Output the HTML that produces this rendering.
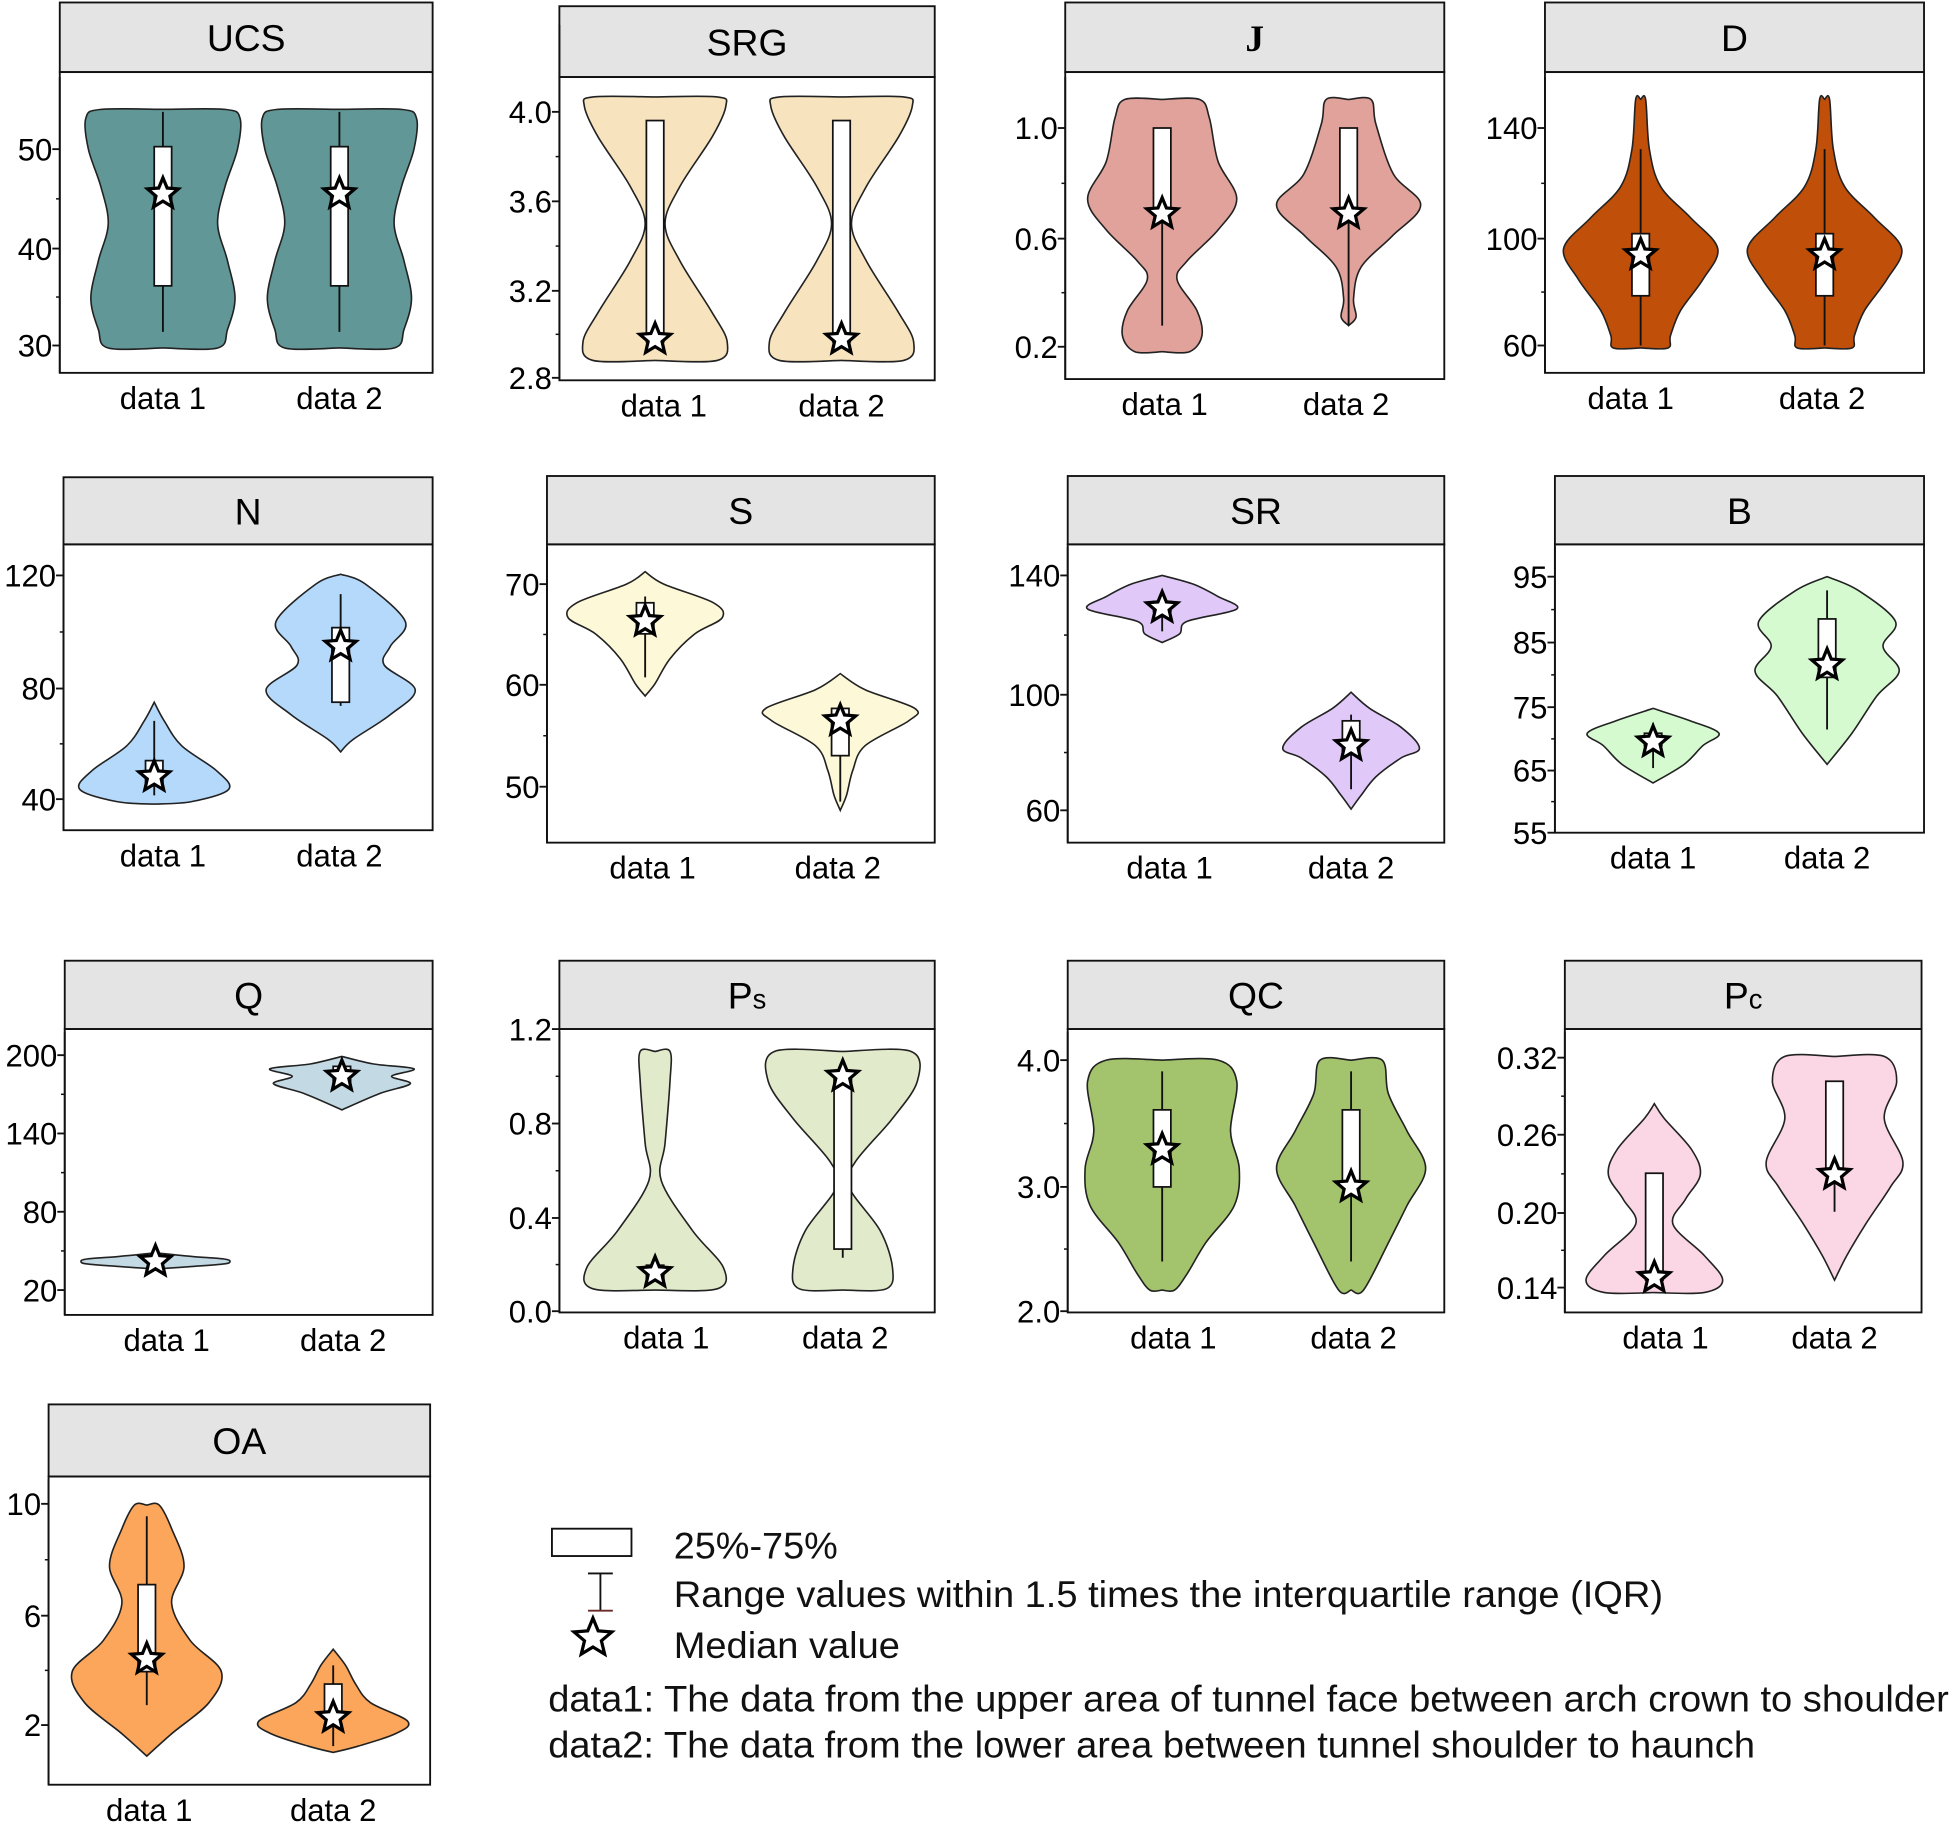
<!DOCTYPE html>
<html><head><meta charset="utf-8"><style>
html,body{margin:0;padding:0;background:#fff;}
svg{display:block;font-family:"Liberation Sans",Arial,sans-serif;}
</style></head><body>
<svg id="s" width="1949" height="1822" viewBox="0 0 1568 1466" xmlns="http://www.w3.org/2000/svg"></svg>
<script>
const S=document.getElementById('s');let h='';
function star(x,y,r){let p=[];for(let i=0;i<10;i++){let a=-Math.PI/2+i*Math.PI/5,rr=i%2?r*0.45:r;p.push((x+rr*Math.cos(a)).toFixed(1)+','+(y+rr*Math.sin(a)).toFixed(1));}
return `<polygon points="${p.join(' ')}" fill="#fff" stroke="#000" stroke-width="2.6" stroke-linejoin="miter"/>`;}
function smooth(pts){let d='M'+pts[0][0]+','+pts[0][1];for(let i=0;i<pts.length-1;i++){let p0=pts[Math.max(0,i-1)],p1=pts[i],p2=pts[i+1],p3=pts[Math.min(pts.length-1,i+2)];
let c1=[p1[0]+(p2[0]-p0[0])/6,p1[1]+(p2[1]-p0[1])/6],c2=[p2[0]-(p3[0]-p1[0])/6,p2[1]-(p3[1]-p1[1])/6];d+=` C${c1[0].toFixed(1)},${c1[1].toFixed(1)} ${c2[0].toFixed(1)},${c2[1].toFixed(1)} ${p2[0]},${p2[1]}`;}return d;}
function violin(cx,prof,col,box,wh,med){
 let r=prof.map(p=>[cx+p[1],p[0]]),l=prof.slice().reverse().map(p=>[cx-p[1],p[0]]);
 let d=smooth(r)+' L'+l[0][0]+','+l[0][1]+' '+smooth(l).slice(1)+'Z';
 h+=`<path d="${d}" fill="${col}" stroke="#222" stroke-width="1.3"/>`;
 if(wh)h+=`<line x1="${cx}" y1="${wh[0]}" x2="${cx}" y2="${wh[1]}" stroke="#111" stroke-width="1.5"/>`;
 if(box)h+=`<rect x="${cx-7}" y="${box[0]}" width="14" height="${box[1]-box[0]}" fill="#fff" stroke="#111" stroke-width="1.4"/>`;
 h+=star(cx,med,13);}
function panel(t,x1,x2,ty,py,by,ticks,cx,axTop){
 h+=`<rect x="${x1}" y="${ty}" width="${x2-x1}" height="${py-ty}" fill="#e4e4e4" stroke="#111" stroke-width="1.5"/>`;
 h+=`<text x="${(x1+x2)/2}" y="${ty+(py-ty)/2+11}" font-size="30" text-anchor="middle">${t}</text>`;
 h+=`<rect x="${x1}" y="${py}" width="${x2-x1}" height="${by-py}" fill="none" stroke="#111" stroke-width="1.5"/>`;
 h+=`<line x1="${x1}" y1="${axTop}" x2="${x1}" y2="${by}" stroke="#111" stroke-width="1.5"/>`;
 for(const [v,y] of ticks){h+=`<line x1="${x1-6}" y1="${y}" x2="${x1}" y2="${y}" stroke="#111" stroke-width="1.5"/>`;
  h+=`<text x="${x1-6}" y="${y+9}" font-size="25" text-anchor="end">${v}</text>`;}
 for(let i=0;i<ticks.length-1;i++){let m=(ticks[i][1]+ticks[i+1][1])/2;h+=`<line x1="${x1-3}" y1="${m}" x2="${x1}" y2="${m}" stroke="#111" stroke-width="1.2"/>`;}
 h+=`<text x="${cx[0]}" y="${by+29}" font-size="25" text-anchor="middle">data 1</text><text x="${cx[1]}" y="${by+29}" font-size="25" text-anchor="middle">data 2</text>`;}
// Row1
panel('UCS',48,348,2,58,300,[[50,120],[40,200],[30,278]],[131,273],62);
let ucs=[[88,0],[88,50],[95,62],[120,60],[150,50],[180,44],[210,52],[240,58],[265,52],[280,44],[280,0]];
violin(131,ucs,'#629797',[118,230],[90,267],156);violin(273,ucs,'#629797',[118,230],[90,267],156);
panel('SRG',450,752,5,62,306,[['4.0',90],['3.6',162],['3.2',234],['2.8',304]],[534,677],20);
let srg=[[78,0],[78,50],[85,57],[110,46],[150,20],[180,8],[210,20],[250,45],[275,58],[290,50],[290,0]];
violin(527,srg,'#f7e4bf',[97,275],null,273);violin(677,srg,'#f7e4bf',[97,275],null,273);
panel('<tspan font-family="Liberation Serif" font-weight="bold">J</tspan>',857,1162,2,58,305,[['1.0',103],['0.6',192],['0.2',279]],[937,1083],62);
violin(935,[[80,0],[80,30],[95,38],[130,45],[160,60],[185,45],[210,20],[225,12],[250,28],[270,32],[283,22],[283,0]],'#e0a29a',[103,172],[103,262],172);
violin(1085,[[80,0],[80,18],[100,22],[140,36],[165,58],[190,35],[215,10],[240,4],[255,6],[262,0]],'#e0a29a',[103,172],[103,262],172);
panel('D',1243,1548,2,58,300,[[140,103],[100,192],[60,278]],[1312,1466],62);
let dd=[[80,0],[80,4],[120,7],[150,16],[175,40],[200,62],[225,50],[250,32],[270,24],[280,22],[280,0]];
violin(1320,dd,'#c04f0a',[188,238],[120,278],205);violin(1468,dd,'#c04f0a',[188,238],[120,278],205);
// Row2
panel('N',51,348,384,438,668,[[120,463],[80,554],[40,643]],[131,273],440);
violin(124,[[565,0],[580,8],[600,22],[620,50],[635,60],[645,30],[647,0]],'#b5d9fb',[612,630],[580,640],625);
violin(274,[[462,0],[470,20],[500,52],[520,40],[535,35],[555,60],[575,40],[595,10],[605,0]],'#b5d9fb',[505,565],[478,568],520);
panel('S',440,752,383,438,678,[[70,470],[60,551],[50,633]],[525,674],440);
violin(519,[[460,0],[470,15],[485,55],[497,62],[510,40],[530,20],[550,8],[560,0]],'#fdf8d7',[485,510],[480,545],500);
violin(676,[[542,0],[555,20],[570,60],[580,55],[600,20],[620,10],[640,5],[652,0]],'#fdf8d7',[570,608],[570,645],580);
panel('SR',859,1162,383,438,678,[[140,463],[100,559],[60,652]],[941,1087],440);
violin(935,[[463,0],[470,25],[480,45],[490,60],[500,20],[510,14],[517,0]],'#e0c8f8',[484,492],[475,508],489);
violin(1087,[[557,0],[570,15],[585,40],[602,55],[610,40],[625,20],[640,8],[651,0]],'#e0c8f8',[580,605],[575,635],600);
panel('B',1251,1548,383,438,670,[[95,464],[85,517],[75,569],[65,620],[55,670]],[1330,1470],440);
violin(1330,[[570,0],[580,30],[590,53],[600,40],[615,25],[630,0]],'#d5fad0',[590,600],[582,618],597);
violin(1470,[[464,0],[475,25],[500,55],[520,45],[540,58],[560,40],[590,20],[615,0]],'#d5fad0',[498,545],[475,587],535);
// Row3
panel('Q',52,348,773,828,1058,[[200,849],[140,912],[80,975],[20,1038]],[134,276],830);
violin(125,[[1008,0],[1011,30],[1013,55],[1015,60],[1017,55],[1019,30],[1021,0]],'#c3dae4',null,null,1015);
violin(275,[[850,0],[856,25],[860,58],[866,40],[872,55],[880,30],[893,0]],'#c3dae4',[858,873],null,866);
panel('P<tspan font-size="22">s</tspan>',450,752,773,828,1056,[['1.2',828],['0.8',904],['0.4',980],['0.0',1055]],[536,680],830);
violin(527,[[846,0],[846,12],[870,12],[920,8],[950,5],[990,30],[1020,55],[1037,50],[1038,0]],'#e1ebcb',[1018,1030],null,1024);
violin(678,[[846,0],[846,55],[870,60],[900,40],[935,10],[955,5],[990,30],[1020,40],[1037,35],[1038,0]],'#e1ebcb',[862,1005],[862,1012],866);
panel('QC',859,1162,773,828,1056,[['4.0',853],['3.0',955],['2.0',1055]],[944,1089],830);
violin(935,[[853,0],[853,45],[870,60],[910,55],[940,62],[970,58],[1000,35],[1025,20],[1038,10],[1038,0]],'#a3c46c',[893,955],[862,1015],925);
violin(1087,[[853,0],[853,25],[880,30],[910,45],[940,60],[970,45],[1000,30],[1038,10],[1038,0]],'#a3c46c',[893,955],[862,1015],955);
panel('P<tspan font-size="22">c</tspan>',1259,1546,773,828,1056,[['0.32',851],['0.26',913],['0.20',976],['0.14',1036]],[1340,1476],830);
violin(1331,[[888,0],[900,8],[925,30],[945,37],[965,25],[985,15],[1010,40],[1030,55],[1040,40],[1040,0]],'#fbd6e5',[944,1030],null,1028);
violin(1476,[[850,0],[850,40],[870,50],[900,40],[935,55],[955,45],[985,25],[1010,10],[1030,0]],'#fbd6e5',[870,945],[870,975],945);
// Row4
panel('OA',39,346,1130,1188,1436,[[10,1210],[6,1300],[2,1388]],[120,268],1190);
violin(118,[[1211,0],[1211,10],[1230,20],[1260,30],[1290,20],[1320,35],[1345,60],[1370,50],[1395,20],[1413,0]],'#fba65a',[1275,1345],[1220,1372],1335);
violin(268,[[1327,0],[1340,10],[1355,18],[1370,30],[1385,60],[1395,50],[1405,20],[1410,0]],'#fba65a',[1355,1380],[1340,1405],1382);
// Legend
h+=`<rect x="444" y="1230" width="64" height="22" fill="#fff" stroke="#111" stroke-width="1.5"/>`;
h+=`<line x1="483" y1="1266" x2="483" y2="1296" stroke="#111" stroke-width="1.5"/><line x1="473" y1="1266" x2="493" y2="1266" stroke="#111" stroke-width="1.5"/><line x1="473" y1="1296" x2="493" y2="1296" stroke="#6a2a2a" stroke-width="1.5"/>`;
h+=star(477,1318,16);
h+=`<g font-size="30" fill="#111"><text x="542" y="1254" textLength="132" lengthAdjust="spacingAndGlyphs">25%-75%</text><text x="542" y="1293" textLength="796" lengthAdjust="spacingAndGlyphs">Range values within 1.5 times the interquartile range (IQR)</text><text x="542" y="1334" textLength="182" lengthAdjust="spacingAndGlyphs">Median value</text><text x="441" y="1377" textLength="1127" lengthAdjust="spacingAndGlyphs">data1: The data from the upper area of tunnel face between arch crown to shoulder</text><text x="441" y="1414" textLength="971" lengthAdjust="spacingAndGlyphs">data2: The data from the lower area between tunnel shoulder to haunch</text></g>`;
S.innerHTML=h;
</script>
</body></html>
